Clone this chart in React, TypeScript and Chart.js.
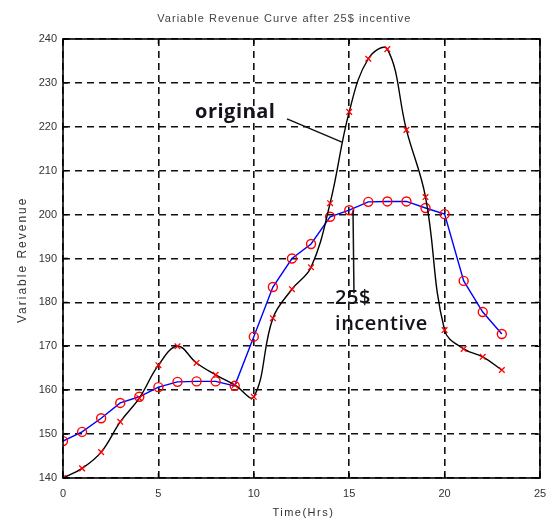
import React, { useEffect, useRef } from "react";
import { Chart, registerables } from "chart.js";

Chart.register(...registerables);

const hours = [0, 1, 2, 3, 4, 5, 6, 7, 8, 9, 10, 11, 12, 13, 14, 15, 16, 17, 18, 19, 20, 21, 22, 23];
const original = [140, 142.2, 145.9, 152.8, 158.2, 165.7, 170, 166.2, 163.5, 161.2, 158.5, 176.4, 183, 188, 202.6, 223.4, 235.5, 237.7, 219.3, 204, 173.7, 169.4, 167.6, 164.6];
const incentive = [148.4, 150.5, 153.6, 157.1, 158.5, 160.7, 161.9, 162, 162, 161, 172.2, 183.5, 190, 193.3, 199.5, 201, 202.9, 203, 203, 201.5, 200.1, 184.9, 177.8, 172.8];

const xTicks = [0, 5, 10, 15, 20, 25];
const yTicks = [140, 150, 160, 170, 180, 190, 200, 210, 220, 230, 240];

const titleText = "Variable Revenue Curve after 25$ incentive";
const xTitle = "Time(Hrs)";
const yTitle = "Variable Revenue";

// annotation anchors in data units
const labelOriginal = { text: "original", x: 6.92, y: 222 };
const labelIncentive1 = { text: "25$", x: 14.26, y: 179.6 };
const labelIncentive2 = { text: "incentive", x: 14.26, y: 173.7 };
const pointerOriginal = [{ x: 11.74, y: 221.8 }, { x: 14.62, y: 216.5 }];
const pointerIncentive = [{ x: 15.2, y: 201 }, { x: 15.25, y: 182.1 }];

const decor = {
  id: "decor",
  afterDraw(chart: any) {
    const { ctx, chartArea: a, scales } = chart;
    const xs = scales.x;
    const ys = scales.y;
    ctx.save();
    ctx.setLineDash([]);
    // frame
    ctx.strokeStyle = "#000";
    ctx.lineWidth = 1.6;
    ctx.strokeRect(a.left, a.top, a.right - a.left, a.bottom - a.top);
    // inner ticks
    ctx.lineWidth = 1.3;
    const tl = 5;
    ctx.beginPath();
    xTicks.forEach((v) => {
      const px = xs.getPixelForValue(v);
      ctx.moveTo(px, a.bottom);
      ctx.lineTo(px, a.bottom - tl);
      ctx.moveTo(px, a.top);
      ctx.lineTo(px, a.top + tl);
    });
    yTicks.forEach((v) => {
      const py = ys.getPixelForValue(v);
      ctx.moveTo(a.left, py);
      ctx.lineTo(a.left + tl, py);
      ctx.moveTo(a.right, py);
      ctx.lineTo(a.right - tl, py);
    });
    ctx.stroke();

    // pointer lines
    ctx.lineWidth = 1.5;
    ctx.strokeStyle = "#111";
    [pointerOriginal, pointerIncentive].forEach((seg) => {
      ctx.beginPath();
      ctx.moveTo(xs.getPixelForValue(seg[0].x), ys.getPixelForValue(seg[0].y));
      ctx.lineTo(xs.getPixelForValue(seg[1].x), ys.getPixelForValue(seg[1].y));
      ctx.stroke();
    });

    // annotation text
    ctx.fillStyle = "#14141c";
    ctx.textAlign = "left";
    ctx.textBaseline = "alphabetic";
    ctx.font = "bold 20px 'Open Sans'";
    (ctx as any).letterSpacing = "0.5px";
    ctx.fillText(labelOriginal.text, xs.getPixelForValue(labelOriginal.x), ys.getPixelForValue(labelOriginal.y));
    ctx.font = "600 20px 'Open Sans'";
    (ctx as any).letterSpacing = "0.5px";
    ctx.fillText(labelIncentive1.text, xs.getPixelForValue(labelIncentive1.x), ys.getPixelForValue(labelIncentive1.y));
    ctx.fillText(labelIncentive2.text, xs.getPixelForValue(labelIncentive2.x), ys.getPixelForValue(labelIncentive2.y));

    // title
    ctx.fillStyle = "#444";
    ctx.textAlign = "center";
    ctx.font = "11px 'Liberation Sans'";
    (ctx as any).letterSpacing = "1px";
    ctx.fillText(titleText, xs.getPixelForValue(11.6), a.top - 17);

    // x title
    (ctx as any).letterSpacing = "1.5px";
    ctx.fillStyle = "#333";
    ctx.fillText(xTitle, xs.getPixelForValue(12.6), a.bottom + 38);

    // y title
    ctx.save();
    ctx.translate(26, ys.getPixelForValue(189.7));
    ctx.rotate(-Math.PI / 2);
    ctx.font = "12px 'Liberation Sans'";
    (ctx as any).letterSpacing = "2px";
    ctx.fillText(yTitle, 0, 0);
    ctx.restore();
    ctx.restore();
  },
};

export default function App() {
  const ref = useRef<HTMLCanvasElement>(null);
  useEffect(() => {
    if (!ref.current) return;
    const chart = new Chart(ref.current, {
      type: "line",
      data: {
        datasets: [
          {
            label: "original",
            data: hours.map((h, i) => ({ x: h, y: original[i] })),
            borderColor: "#000",
            borderWidth: 1.4,
            tension: 0.4,
            pointStyle: "crossRot",
            pointRadius: 4,
            pointBorderColor: "#ff0000",
            pointBorderWidth: 1.3,
            fill: false,
          },
          {
            label: "25$ incentive",
            data: hours.map((h, i) => ({ x: h, y: incentive[i] })),
            borderColor: "#0000ff",
            borderWidth: 1.4,
            tension: 0,
            pointStyle: "circle",
            pointRadius: 4.5,
            pointBackgroundColor: "rgba(0,0,0,0)",
            pointBorderColor: "#ff0000",
            pointBorderWidth: 1.4,
            fill: false,
          },
        ],
      },
      options: {
        animation: false,
        responsive: false,
        events: [],
        layout: { padding: { top: 39, right: 9, left: 0, bottom: 0 } },
        plugins: {
          legend: { display: false },
          tooltip: { enabled: false },
          title: { display: false },
        },
        scales: {
          x: {
            type: "linear",
            min: 0,
            max: 25,
            afterFit: (s: any) => {
              s.height = 42;
              s.paddingLeft = 0;
              s.paddingRight = 0;
            },
            afterBuildTicks: (s: any) => {
              s.ticks = xTicks.map((v) => ({ value: v }));
            },
            ticks: {
              color: "#333",
              font: { family: "'Liberation Sans'", size: 11 },
              padding: 9,
              maxRotation: 0,
            },
            grid: { color: "#111", lineWidth: 1.6, drawTicks: false },
            border: { display: false, dash: [7, 5] },
          },
          y: {
            type: "linear",
            min: 140,
            max: 240,
            afterFit: (s: any) => {
              s.width = 63;
              s.paddingTop = 0;
              s.paddingBottom = 0;
            },
            afterBuildTicks: (s: any) => {
              s.ticks = yTicks.map((v) => ({ value: v }));
            },
            ticks: {
              color: "#333",
              font: { family: "'Liberation Sans'", size: 11 },
              padding: 6,
            },
            grid: { color: "#111", lineWidth: 1.6, drawTicks: false },
            border: { display: false, dash: [7, 5] },
          },
        },
      },
      plugins: [decor],
    });
    return () => chart.destroy();
  }, []);
  return (
    <div style={{ position: "absolute", left: 0, top: 0, width: 549, height: 520, background: "#fff" }}>
      <canvas ref={ref} width={549} height={520} />
    </div>
  );
}
